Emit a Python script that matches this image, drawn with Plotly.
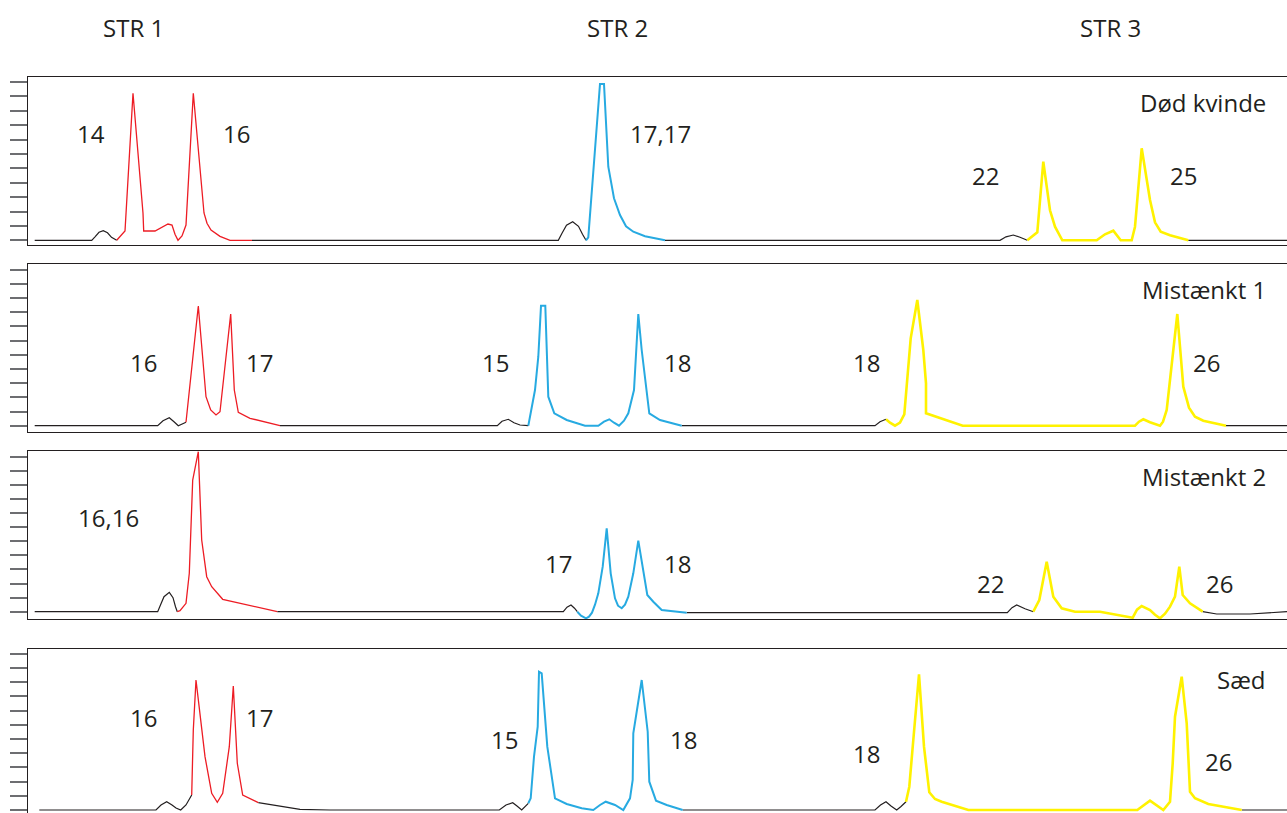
import plotly.graph_objects as go

# ---------------- data (scan position, signal height) ----------------
# Panel 1: Død kvinde
DOD_BLACK_X = [[34.7, 91.7, 95, 99, 103.3, 107.5, 111.5, 116.7], [252, 558.3, 562, 566.5, 572.7, 578.5, 582.5, 586], [665, 1000, 1006, 1013.3, 1020, 1027.3], [1188.3, 1287]]
DOD_BLACK_Y = [[0, 0, 3.5, 8, 9.6, 7.5, 3, 0], [0, 0, 7, 15, 18.6, 14, 6, 0], [0, 0, 3.5, 5.3, 3, 0], [0, 0]]
DOD_RED_X = [[116.7, 125, 133, 143, 143.7, 155, 168, 172, 175, 178, 182, 186, 193.3, 204, 207, 211, 220, 230, 252]]
DOD_RED_Y = [[0, 9.3, 147, 27, 9.3, 9.3, 16.3, 15.3, 6, 0, 4.3, 15.3, 147, 27.3, 17, 10.3, 4, 0, 0]]
DOD_BLUE_X = [[586, 588.3, 600, 604, 608.3, 614, 620, 626, 633.3, 645, 665]]
DOD_BLUE_Y = [[0, 3, 156.3, 156.3, 73.6, 42, 25.3, 14, 8.6, 4, 0]]
DOD_YELLOW_X = [[1027.3, 1037.3, 1043.3, 1050, 1055, 1062.3, 1096.7, 1105, 1113.3, 1120.7, 1131.7, 1135, 1141.7, 1150, 1155, 1160.7, 1170, 1188.3]]
DOD_YELLOW_Y = [[0, 8, 78.6, 30, 13.6, 0, 0, 6, 9.6, 0, 0, 13.6, 92, 40.3, 18, 8.6, 5, 0]]

# Panel 2: Mistænkt 1
M1_BLACK_X = [[34.7, 157.7, 163, 169.3, 174, 178.3, 186], [280, 497.3, 502, 508.3, 514, 520, 528.3], [681.7, 875, 880, 886], [1226, 1287]]
M1_BLACK_Y = [[0, 0, 5, 8, 4, 0, 3.4], [0, 0, 4.5, 6.4, 3, 0.7, 0], [0, 0, 4, 6.4], [0, 0]]
M1_RED_X = [[186, 198.3, 206, 210.7, 216, 220, 230.7, 234.3, 238.3, 250, 280]]
M1_RED_Y = [[3.4, 119.7, 29, 15.7, 10.7, 14, 111.7, 35.7, 13.4, 7.4, 0]]
M1_BLUE_X = [[528.3, 535, 538.3, 541, 545.3, 548.3, 554.3, 566.7, 585, 598.3, 604, 609.3, 614, 619, 624, 628.3, 634, 638.3, 641.7, 649.3, 660, 681.7]]
M1_BLUE_Y = [[0, 35.7, 69, 120, 120, 29, 12.4, 5.7, 0, 0, 4, 6.4, 3, 0, 5, 12.4, 35.7, 111.7, 75.7, 12.4, 5.7, 0]]
M1_YELLOW_X = [[886, 890, 895, 900, 904.3, 910.7, 917.3, 923.3, 926, 926, 962.7, 1135, 1139, 1143.3, 1150, 1160, 1163, 1166.7, 1177.3, 1183.3, 1189, 1195, 1203.3, 1226]]
M1_YELLOW_Y = [[6.4, 3, 0, 3, 11.4, 87.4, 125.7, 75.7, 42.4, 12.4, 0, 0, 4, 6.4, 3.5, 0, 4, 15.7, 111.7, 39, 18, 9, 5, 0]]

# Panel 3: Mistænkt 2
M2_BLACK_X = [[34.7, 157.7, 161, 164, 169.3, 173, 175.5, 177.3], [277.3, 563.3, 567, 571, 574.5, 577.3], [686.7, 1007.3, 1012, 1016.7, 1025, 1033.3], [1202.7, 1216.7, 1250, 1287]]
M2_BLACK_Y = [[0, 0, 8, 15, 19.4, 14, 5, 0], [0, 0, 4.5, 6.7, 3.5, 0], [-1, -1, 4, 6.7, 3, 0], [0, -2.3, -2.3, 0]]
M2_RED_X = [[177.3, 180, 186, 189.3, 192.7, 198.3, 201.7, 206.7, 211.7, 222.7, 277.3]]
M2_RED_Y = [[0, 1, 8.4, 38.4, 131.7, 160, 71.7, 35, 25, 12.4, 0]]
M2_BLUE_X = [[577.3, 581, 586, 589, 592, 595, 598.3, 602.7, 606.7, 610.7, 615, 618, 621.7, 625, 628.3, 633.3, 638.3, 642.7, 647.3, 653.3, 661.7, 686.7]]
M2_BLUE_Y = [[0, -4, -6.6, -5, -1, 7, 18.4, 45, 83.4, 38.4, 13.4, 6, 3.4, 7, 15, 38.4, 71, 45, 16.7, 10, 1.7, -1]]
M2_YELLOW_X = [[1033.3, 1039.3, 1046.7, 1053.3, 1061.7, 1075, 1100, 1132.7, 1137, 1141.7, 1150, 1155, 1160, 1165, 1170, 1175, 1179.3, 1182.7, 1190, 1202.7]]
M2_YELLOW_Y = [[0, 11.7, 50, 15, 3.4, 0, 0, -6, 2, 5.7, 1.7, -3, -6.6, -2, 5, 15, 45, 16.7, 8.4, 0]]

# Panel 4: Sæd
SAED_BLACK_X = [[39.3, 156, 161, 166.7, 172, 176, 180.7, 186, 191.7], [258.3, 300, 330, 499.3, 506, 512.7, 517, 521.7, 528.3], [682.7, 875, 880.5, 886, 891, 896.7, 901, 906], [1241.7, 1287]]
SAED_BLACK_Y = [[0, 0, 5, 8.3, 5, 2, 0, 5, 15], [7.3, 0.7, 0, 0, 5, 7.3, 4, 0, 6.7], [0, 0, 5, 8.3, 4, 0, 3.5, 8.3], [0, 0]]
SAED_RED_X = [[191.7, 193.3, 196, 205, 211.7, 217.3, 222.7, 229.3, 233.3, 237.3, 242.7, 258.3]]
SAED_RED_Y = [[15, 80, 130, 53.3, 16.7, 7.7, 16.7, 63.3, 124, 46.7, 15, 7.3]]
SAED_BLUE_X = [[528.3, 530.7, 534, 537.7, 539, 541.7, 547.3, 555, 566.7, 581.7, 593.3, 600, 605.7, 615, 623.3, 630, 632.7, 633.3, 641.7, 647.7, 649.3, 656, 666.7, 682.7]]
SAED_BLUE_Y = [[6.7, 11.7, 53.3, 83.3, 138.3, 136.7, 63.3, 11.7, 6, 1.7, 0, 5, 8.3, 5, 0, 11.7, 30, 76.7, 130, 78.3, 28.3, 9.3, 5, 0]]
SAED_YELLOW_X = [[906, 909.3, 913.3, 919, 924, 929.3, 935, 941.7, 968.3, 1137.3, 1150, 1163.3, 1170, 1172.7, 1175, 1181.7, 1186.7, 1190, 1195, 1208.3, 1241.7]]
SAED_YELLOW_Y = [[8.3, 23.3, 70, 135.7, 63.3, 17.7, 11, 8.3, 0, 0, 9.3, 0, 8.3, 46.7, 93.3, 133.3, 86.7, 18.3, 11.7, 6, 0]]

PANEL_NAMES = ["Død kvinde", "Mistænkt 1", "Mistænkt 2", "Sæd"]
LOCUS_NAMES = ["STR 1", "STR 2", "STR 3"]
LOCUS_POS = [133, 617, 1110]

# allele labels per panel: text, scan position, height
DOD_LABELS = [("14", 91, 107), ("16", 236, 107), ("17,17", 660, 107), ("22", 985, 65), ("25", 1183, 65)]
M1_LABELS = [("16", 143, 63), ("17", 259, 63), ("15", 495.5, 63), ("18", 677, 63), ("18", 866.7, 63), ("26", 1206, 63)]
M2_LABELS = [("16,16", 108.5, 94), ("17", 558, 48), ("18", 677, 48), ("22", 990.5, 28), ("26", 1219, 28)]
SAED_LABELS = [("16", 143, 93), ("17", 259, 93), ("15", 504.5, 71), ("18", 683, 71), ("18", 866.7, 57), ("26", 1218.7, 49)]
NAME_HEIGHT = [138, 136, 135, 131]

# ---------------- styling ----------------
INK = "#231F20"
DYES = {
    "black": dict(color=INK, width=1.2),
    "red": dict(color="#ED1C24", width=1.3),
    "blue": dict(color="#27AAE1", width=2.0),
    "yellow": dict(color="#FFF200", width=2.6),
}
FONT = "Open Sans"
W, H = 1287, 813

panels = [
    dict(black=(DOD_BLACK_X, DOD_BLACK_Y), red=(DOD_RED_X, DOD_RED_Y), blue=(DOD_BLUE_X, DOD_BLUE_Y),
         yellow=(DOD_YELLOW_X, DOD_YELLOW_Y), labels=DOD_LABELS,
         top=77, bottom=245, yr=[-4.7, 163.3], tick=14.4),
    dict(black=(M1_BLACK_X, M1_BLACK_Y), red=(M1_RED_X, M1_RED_Y), blue=(M1_BLUE_X, M1_BLUE_Y),
         yellow=(M1_YELLOW_X, M1_YELLOW_Y), labels=M1_LABELS,
         top=264, bottom=432, yr=[-6.3, 161.7], tick=14.2),
    dict(black=(M2_BLACK_X, M2_BLACK_Y), red=(M2_RED_X, M2_RED_Y), blue=(M2_BLUE_X, M2_BLUE_Y),
         yellow=(M2_YELLOW_X, M2_YELLOW_Y), labels=M2_LABELS,
         top=451, bottom=619, yr=[-7.3, 160.7], tick=14.1),
    dict(black=(SAED_BLACK_X, SAED_BLACK_Y), red=(SAED_RED_X, SAED_RED_Y), blue=(SAED_BLUE_X, SAED_BLUE_Y),
         yellow=(SAED_YELLOW_X, SAED_YELLOW_Y), labels=SAED_LABELS,
         top=649, bottom=813, yr=[-3, 161], tick=14.2),
]

fig = go.Figure()
layout = dict(
    width=W, height=H, margin=dict(l=0, r=0, t=0, b=0),
    paper_bgcolor="white", plot_bgcolor="white", showlegend=False,
)
annotations = []

for i, p in enumerate(panels, start=1):
    xa = "x" if i == 1 else f"x{i}"
    ya = "y" if i == 1 else f"y{i}"
    for dye in ["black", "red", "blue", "yellow"]:
        segx, segy = p[dye]
        xs, ys = [], []
        for sx, sy in zip(segx, segy):
            xs += list(sx) + [None]
            ys += list(sy) + [None]
        fig.add_trace(go.Scatter(x=xs, y=ys, mode="lines", line=DYES[dye],
                                 xaxis=xa, yaxis=ya, hoverinfo="skip"))
    layout["xaxis" if i == 1 else f"xaxis{i}"] = dict(
        domain=[28 / W, 1], range=[28, 1287], anchor=ya,
        showline=True, mirror=True, linecolor=INK, linewidth=1.2,
        showticklabels=False, ticks="", showgrid=False, zeroline=False,
    )
    layout["yaxis" if i == 1 else f"yaxis{i}"] = dict(
        domain=[1 - p["bottom"] / H, 1 - p["top"] / H], range=p["yr"], anchor=xa,
        showline=True, mirror=False, linecolor=INK, linewidth=1.2,
        ticks="outside", ticklen=17, tickwidth=1.5, tickcolor="#6D6E71",
        tickvals=[k * p["tick"] for k in range(12)],
        showticklabels=False, showgrid=False, zeroline=False,
    )
    for text, xv, yv in p["labels"]:
        annotations.append(dict(text=text, x=xv, y=yv, xref=xa, yref=ya, showarrow=False,
                                xanchor="center", yanchor="middle",
                                font=dict(family=FONT, size=24, color=INK)))
    annotations.append(dict(text=PANEL_NAMES[i - 1], x=1268, y=NAME_HEIGHT[i - 1], xref=xa, yref=ya,
                            showarrow=False, xanchor="right", yanchor="middle",
                            font=dict(family=FONT, size=24, color=INK)))

for name, xp in zip(LOCUS_NAMES, LOCUS_POS):
    annotations.append(dict(text=name, x=xp / W, y=1 - 28 / H, xref="paper", yref="paper",
                            showarrow=False, xanchor="center", yanchor="middle",
                            font=dict(family=FONT, size=24, color=INK)))

layout["annotations"] = annotations
fig.update_layout(**layout)
fig.write_html("out.html", config={"displayModeBar": False},
               post_script="document.body.style.margin='0';document.body.style.overflow='hidden';")
